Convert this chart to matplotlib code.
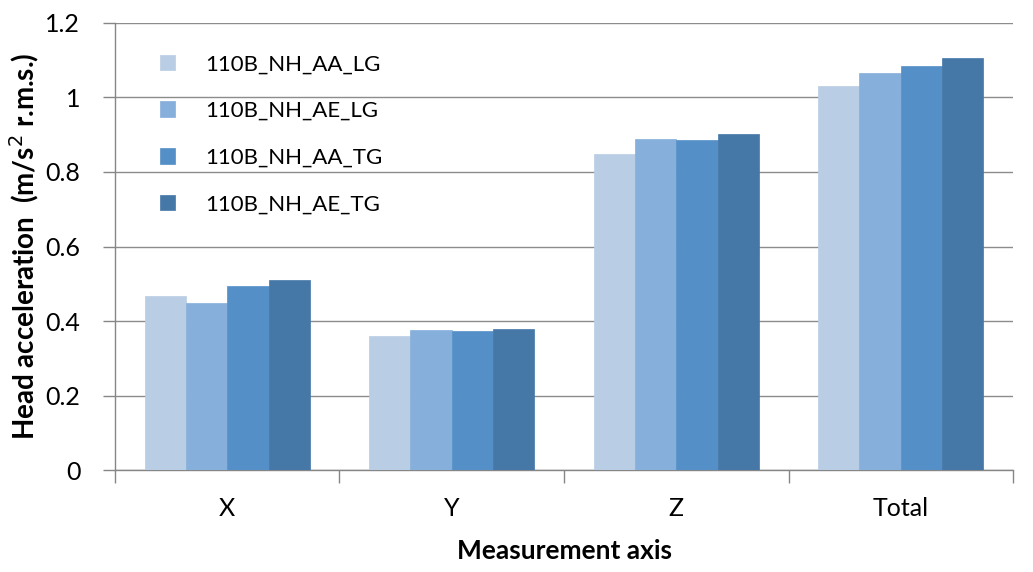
import matplotlib
matplotlib.use("Agg")
import matplotlib.pyplot as plt
import numpy as np

categories = ["X", "Y", "Z", "Total"]
series_names = ["110B_NH_AA_LG", "110B_NH_AE_LG", "110B_NH_AA_TG", "110B_NH_AE_TG"]
aa_lg = [0.468, 0.360, 0.847, 1.032]
ae_lg = [0.449, 0.377, 0.889, 1.065]
aa_tg = [0.494, 0.373, 0.887, 1.085]
ae_tg = [0.509, 0.380, 0.902, 1.107]
series_values = [aa_lg, ae_lg, aa_tg, ae_tg]
colors = ["#B9CDE5", "#86AFDB", "#5490C7", "#4577A7"]
yticks = [0, 0.2, 0.4, 0.6, 0.8, 1.0, 1.2]
ytick_labels = ["0", "0.2", "0.4", "0.6", "0.8", "1", "1.2"]

plt.rcParams['font.family'] = ['Lato', 'DejaVu Sans']

fig = plt.figure(figsize=(10.33, 5.72), dpi=100)
ax = fig.add_axes([0.1113, 0.178, 0.8694, 0.782])

x = np.arange(len(categories))
bw = 0.184
for i, (name, vals, c) in enumerate(zip(series_names, series_values, colors)):
    ax.bar(x + (i - 1.5) * bw, vals, width=bw, color=c, label=name, zorder=3,
           edgecolor=c, linewidth=0.5)

ax.set_xlim(-0.5, len(categories) - 0.5)
ax.set_ylim(0, 1.2)
ax.set_yticks(yticks)
ax.set_yticklabels(ytick_labels, fontsize=18)
ax.set_xticks(x)
ax.set_xticklabels(categories, fontsize=18)
ax.tick_params(axis='x', length=0, pad=19)
ax.set_xticks(np.arange(-0.5, len(categories)), minor=True)
ax.tick_params(axis='x', which='minor', length=9, color='#868686', width=1)
ax.tick_params(axis='y', length=9, color='#868686', width=1, pad=16)

ax.grid(axis='y', color='#8C8C8C', linewidth=1, zorder=0)
ax.set_axisbelow(True)
for s in ['top', 'right']:
    ax.spines[s].set_visible(False)
for s in ['left', 'bottom']:
    ax.spines[s].set_color('#868686')
    ax.spines[s].set_linewidth(1)

ax.set_xlabel("Measurement axis", fontsize=19, fontweight='bold', labelpad=14)
ax.set_ylabel("Head acceleration  (m/s$^{2}$ r.m.s.)", fontsize=20, fontweight='bold', labelpad=3)

leg = ax.legend(loc='upper left', bbox_to_anchor=(0.05, 0.93), frameon=False, fontsize=16,
                handlelength=0.7, handleheight=0.7, labelspacing=1.2, handletextpad=1.35,
                borderaxespad=0, borderpad=0)

fig.savefig("out.png", dpi=100)
